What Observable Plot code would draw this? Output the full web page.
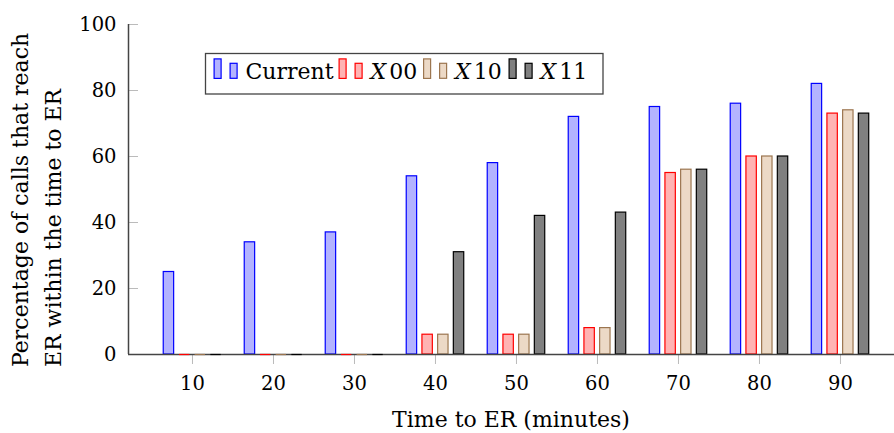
<!DOCTYPE html>
<html><head><meta charset="utf-8">
<script src="https://cdn.jsdelivr.net/npm/d3@7"></script>
<script src="https://cdn.jsdelivr.net/npm/@observablehq/plot@0.6"></script>
<style>
html,body{margin:0;padding:0;background:#fff;}
#chart{position:relative;width:894px;height:433px;}
</style></head><body><div id="chart"></div>
<script>
// ---- data ----
const times = [10, 20, 30, 40, 50, 60, 70, 80, 90];
const seriesNames = ["Current", "X00", "X10", "X11"];
const current = [25, 34, 37, 54, 58, 72, 75, 76, 82];
const x00 = [0, 0, 0, 6, 6, 8, 55, 60, 73];
const x10 = [0, 0, 0, 6, 6, 8, 56, 60, 74];
const x11 = [0, 0, 0, 31, 42, 43, 56, 60, 73];
const yTicks = [0, 20, 40, 60, 80, 100];
const xTicks = [10, 20, 30, 40, 50, 60, 70, 80, 90];
const xLabel = "Time to ER (minutes)";
const yLabel1 = "Percentage of calls that reach";
const yLabel2 = "ER within the time to ER";

// ---- styles ----
const fills = ["#b3b3ff", "#ffb3b3", "#ecd9c6", "#808080"];
const strokes = ["#0000ff", "#ff0000", "#9c7650", "#000000"];
const font = "'DejaVu Serif', serif";
const xDomain = [2.1, 96.67];
const pxPerUnit = 766 / (xDomain[1] - xDomain[0]);
const barPitch = 15.7 / pxPerUnit, barWidth = 10.4 / pxPerUnit;
const legendStarts = [213.5, 338.5, 423, 508.5];
const legendRight = 603;

const allValues = [current, x00, x10, x11];
const rows = [];
allValues.forEach((vals, s) => vals.forEach((v, i) => {
  const c = times[i] + (s - 1.5) * barPitch;
  rows.push({series: seriesNames[s], s, time: times[i], value: v, x1: c - barWidth / 2, x2: c + barWidth / 2});
}));

const barMarks = seriesNames.map((name, s) =>
  Plot.rectY(rows.filter(d => d.s === s && d.value > 0), {
    x1: "x1", x2: "x2", y1: 0, y2: "value",
    fill: fills[s], stroke: strokes[s], strokeWidth: 1.2
  }));
const zeroMarks = seriesNames.map((name, s) =>
  Plot.ruleY(rows.filter(d => d.s === s && d.value === 0), {
    y: 0, x1: "x1", x2: "x2", stroke: strokes[s], strokeWidth: 1.2
  }));

const plot = Plot.plot({
  width: 894, height: 433,
  marginLeft: 128, marginRight: 0, marginTop: 24, marginBottom: 79,
  style: {fontFamily: font, fontSize: "19.5px", background: "#fff", color: "#000", overflow: "visible"},
  x: {domain: xDomain, label: null},
  y: {domain: [0, 100], label: null},
  marks: [
    Plot.ruleY(yTicks, {x1: xDomain[0], x2: xDomain[0] + 10 / pxPerUnit, stroke: "#bbb", strokeWidth: 1}),
    Plot.axisY({ticks: yTicks, tickSize: 0, tickPadding: 12, tickFormat: d => String(d)}),
    Plot.axisX({ticks: xTicks, tickSize: 10, tickPadding: 12, stroke: "#bbb", tickFormat: d => String(d)}),
    ...barMarks,
    Plot.ruleY([0], {stroke: "#444", strokeWidth: 1.5}),
    Plot.ruleX([xDomain[0]], {y1: 0, y2: 100, stroke: "#444", strokeWidth: 1.5}),
    ...zeroMarks
  ]
});
document.getElementById("chart").appendChild(plot);

const svg = d3.select(plot);

// axis labels
svg.append("text").attr("x", 511).attr("y", 427).attr("text-anchor", "middle")
  .attr("font-family", font).attr("font-size", 22).attr("fill", "#000").text(xLabel);
const yl = svg.append("g").attr("transform", "rotate(-90)").attr("text-anchor", "start")
  .attr("font-family", font).attr("font-size", 22).attr("fill", "#000");
yl.append("text").attr("x", -367).attr("y", 28).attr("text-anchor", "start").text(yLabel1);
yl.append("text").attr("x", -367).attr("y", 61).attr("text-anchor", "start").text(yLabel2);

// legend
const lg = svg.append("g").attr("font-family", font).attr("font-size", 22).attr("text-anchor", "start");
lg.append("rect").attr("x", 205.5).attr("y", 53.5).attr("width", legendRight - 205.5).attr("height", 40.5)
  .attr("fill", "#fff").attr("stroke", "#444").attr("stroke-width", 1.3);
seriesNames.forEach((name, s) => {
  const x0 = legendStarts[s];
  lg.append("rect").attr("x", x0 + 0.6).attr("y", 58.9).attr("width", 7).attr("height", 19.5)
    .attr("fill", fills[s]).attr("stroke", strokes[s]).attr("stroke-width", 1.2);
  lg.append("rect").attr("x", x0 + 16.6).attr("y", 63.3).attr("width", 7).attr("height", 15)
    .attr("fill", fills[s]).attr("stroke", strokes[s]).attr("stroke-width", 1.2);
  const t = lg.append("text").attr("x", x0 + 32).attr("y", 79).attr("fill", "#000").attr("text-anchor", "start");
  if (name.startsWith("X")) {
    t.append("tspan").attr("font-style", "italic").text("X");
    t.append("tspan").attr("dx", 3).text(name.slice(1));
  } else t.text(name);
});
</script>
</body></html>
